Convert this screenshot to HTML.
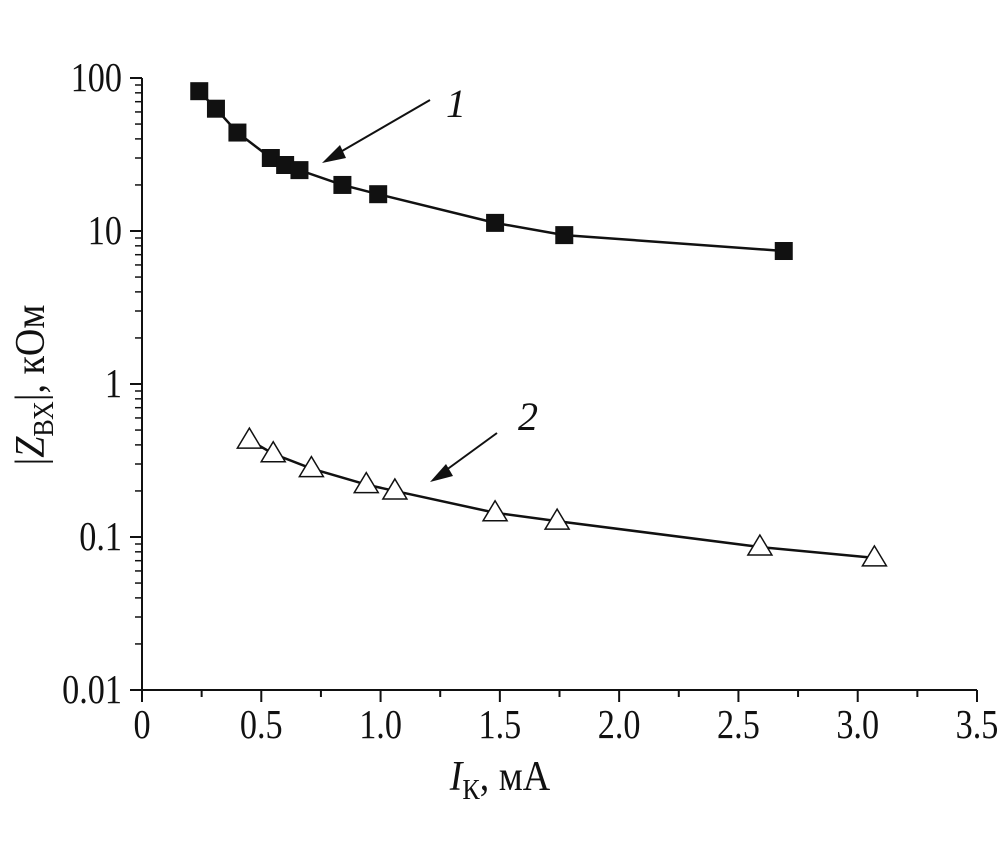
<!DOCTYPE html>
<html><head><meta charset="utf-8"><style>
html,body{margin:0;padding:0;background:#fff;}
svg text{font-family:"Liberation Serif",serif;fill:#111;}
</style></head><body>
<svg id="chart" width="998" height="847" xmlns="http://www.w3.org/2000/svg">
<g id="axes"></g><g id="series"></g>
<g>
<line x1="430" y1="100" x2="330" y2="158" stroke="#111" stroke-width="2"/>
<polygon points="322,163 340,145 346,158" fill="#111"/>
<text x="446" y="117" font-size="40" font-style="italic">1</text>
</g>
<g>
<line x1="497" y1="433" x2="438" y2="476" stroke="#111" stroke-width="2"/>
<polygon points="430,482 446,464 453,476" fill="#111"/>
<text x="518" y="430" font-size="40" font-style="italic">2</text>
</g>
<text transform="translate(44,385) rotate(-90) scale(1,1.1)" text-anchor="middle" font-size="38">|<tspan font-style="italic">Z</tspan><tspan font-size="26" dy="8">ВХ</tspan><tspan dy="-8">|, кОм</tspan></text>
<text transform="translate(500,790) scale(1,1.1)" text-anchor="middle" font-size="38"><tspan font-style="italic">I</tspan><tspan font-size="26" dy="8">К</tspan><tspan dy="-8">, мА</tspan></text>
</svg>
<script>
const xTicks=[0,0.5,1.0,1.5,2.0,2.5,3.0,3.5];
const xTickLabels=["0","0.5","1.0","1.5","2.0","2.5","3.0","3.5"];
const yTicks=[0.01,0.1,1,10,100];
const yTickLabels=["0.01","0.1","1","10","100"];
const s1X=[0.24,0.31,0.40,0.54,0.60,0.66,0.84,0.99,1.48,1.77,2.69];
const s1Y=[82,63,44,30,27,25,20,17.4,11.3,9.4,7.4];
const s2X=[0.45,0.55,0.71,0.94,1.06,1.48,1.74,2.59,3.07];
const s2Y=[0.43,0.35,0.28,0.22,0.20,0.144,0.127,0.086,0.073];
const X0=142,X1=977,Y0=690,Y1=78;
const xs=v=>X0+(v/3.5)*(X1-X0);
const ys=v=>Y0-(Math.log10(v)+2)/4*(Y0-Y1);
const NS="http://www.w3.org/2000/svg";
function mk(t,a,p){const e=document.createElementNS(NS,t);for(const k in a)e.setAttribute(k,a[k]);p.appendChild(e);return e;}
const ax=document.getElementById('axes');
const xa=mk('line',{x1:X0,y1:Y0,x2:X1,y2:Y0,stroke:'#111','stroke-width':2},ax);


const ya=mk('line',{x1:X0,y1:Y0,x2:X0,y2:Y1,stroke:'#111','stroke-width':2},ax);


for(let i=0;i<xTicks.length;i++){
  const x=xs(xTicks[i]);
  mk('line',{x1:x,y1:Y0,x2:x,y2:Y0+12,stroke:'#111','stroke-width':2},ax);
  if(i<xTicks.length-1){const xm=xs(xTicks[i]+0.25);mk('line',{x1:xm,y1:Y0,x2:xm,y2:Y0+7,stroke:'#111','stroke-width':2},ax);}
  const t=mk('text',{'text-anchor':'middle','font-size':36,transform:'translate('+x+','+(Y0+48)+') scale(0.95,1.15)'},ax);
  t.textContent=xTickLabels[i];
  
  
}
for(let i=0;i<yTicks.length;i++){
  const y=ys(yTicks[i]);
  mk('line',{x1:X0-12,y1:y,x2:X0,y2:y,stroke:'#111','stroke-width':2},ax);
  if(i<yTicks.length-1){for(let m=2;m<10;m++){const ym=ys(yTicks[i]*m);mk('line',{x1:X0-7,y1:ym,x2:X0,y2:ym,stroke:'#111','stroke-width':1.5},ax);}}
  const t=mk('text',{'text-anchor':'end','font-size':36,transform:'translate('+(X0-20)+','+(y+13)+') scale(0.95,1.15)'},ax);
  t.textContent=yTickLabels[i];
  
  
}
const sg=document.getElementById('series');
const p1=s1X.map((v,i)=>[xs(v),ys(s1Y[i])]);
const p2=s2X.map((v,i)=>[xs(v),ys(s2Y[i])]);
const l1=mk('polyline',{points:p1.map(p=>p.join(',')).join(' '),fill:'none',stroke:'#111','stroke-width':2.5,'stroke-linejoin':'round'},sg);


const l2=mk('polyline',{points:p2.map(p=>p.join(',')).join(' '),fill:'none',stroke:'#111','stroke-width':2.5,'stroke-linejoin':'round'},sg);


p1.forEach(p=>{const r=mk('rect',{x:p[0]-9,y:p[1]-9,width:18,height:18,fill:'#111'},sg);
  
  });
p2.forEach(p=>{const t=mk('polygon',{points:(p[0])+','+(p[1]-12)+' '+(p[0]-12)+','+(p[1]+8)+' '+(p[0]+12)+','+(p[1]+8),fill:'#fff',stroke:'#111','stroke-width':1.5},sg);
  
  });
</script>
</body></html>
